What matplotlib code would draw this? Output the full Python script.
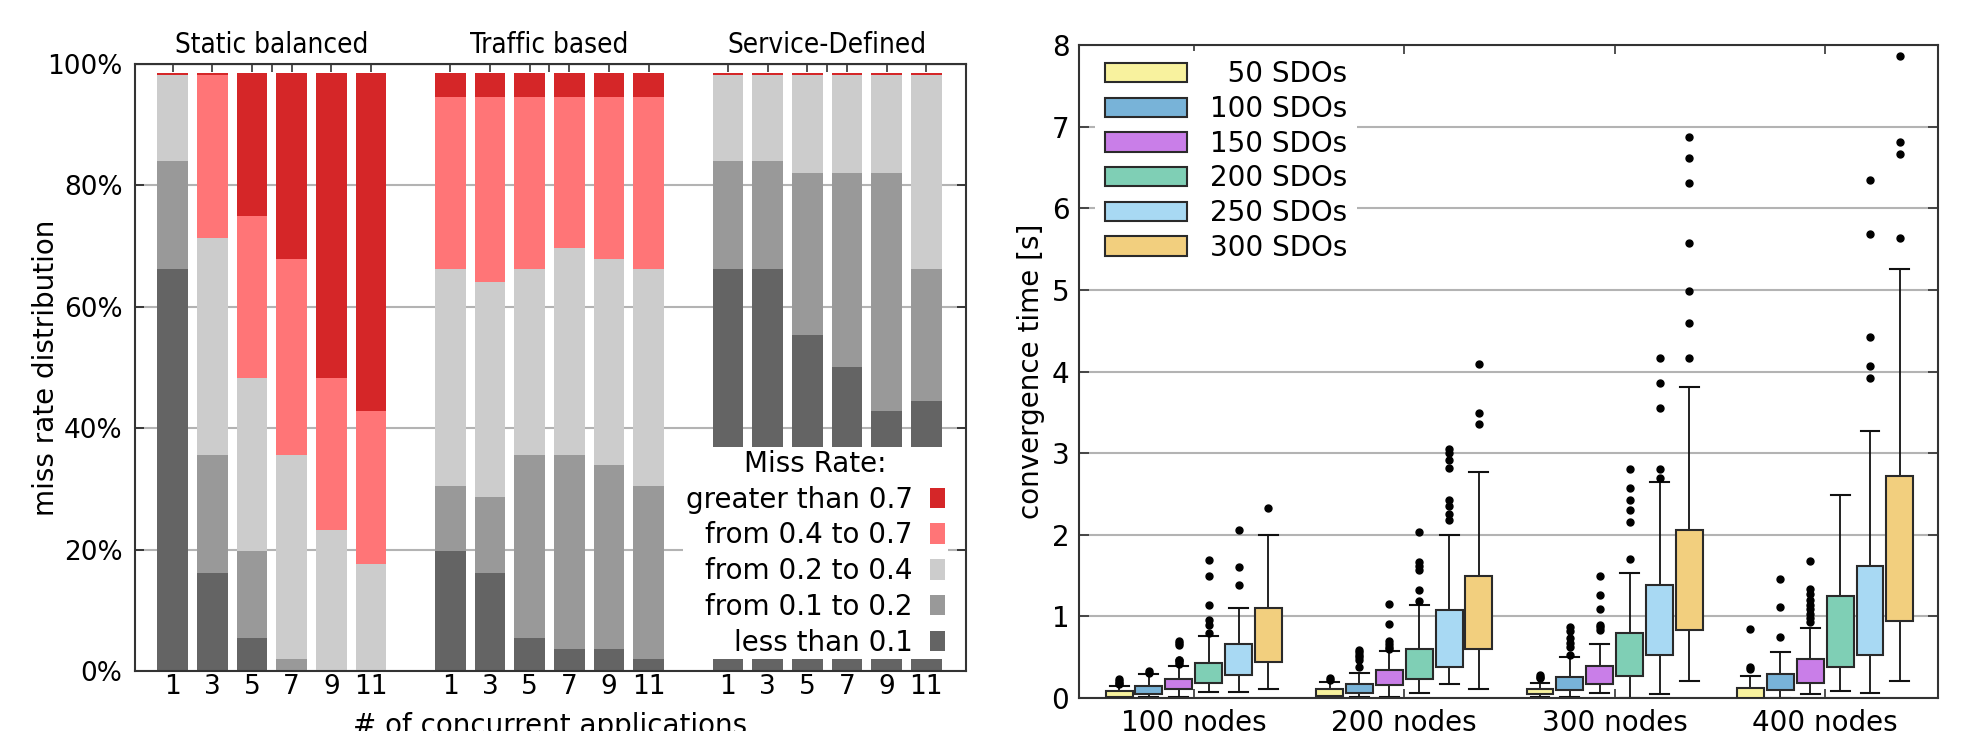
import numpy as np
import matplotlib
matplotlib.use("Agg")
import matplotlib.pyplot as plt
from matplotlib.patches import Patch
from matplotlib.font_manager import FontProperties
from matplotlib.ticker import FuncFormatter

# ---------------------------------------------------------------
# Left chart: miss rate distribution (stacked bars, % of apps)
# ---------------------------------------------------------------
groups = ['Static balanced', 'Traffic based', 'Service-Defined']
apps = ['1', '3', '5', '7', '9', '11']

# segment sizes per bar, 3 groups x 6 bars, bottom to top
less_01 = [66.2, 16.1, 5.4, 0.0, 0.0, 0.0,
           19.7, 16.1, 5.4, 3.7, 3.7, 1.9,
           66.2, 66.2, 55.3, 50.1, 42.8, 44.5]
from_01_02 = [17.8, 19.5, 14.3, 1.9, 0.0, 0.0,
              10.8, 12.6, 30.2, 31.9, 30.2, 28.6,
              17.8, 17.8, 26.7, 31.9, 39.2, 21.7]
from_02_04 = [14.1, 35.7, 28.5, 33.7, 23.2, 17.7,
              35.7, 35.4, 30.6, 34.0, 33.9, 35.7,
              14.1, 14.1, 16.1, 16.1, 16.1, 31.9]
from_04_07 = [0.0, 26.8, 26.8, 32.2, 25.0, 25.1,
              28.4, 30.5, 28.4, 25.0, 26.8, 28.4,
              0.0, 0.0, 0.0, 0.0, 0.0, 0.0]
greater_07 = [0.4, 0.4, 23.5, 30.7, 50.3, 55.7,
              3.9, 3.9, 3.9, 3.9, 3.9, 3.9,
              0.4, 0.4, 0.4, 0.4, 0.4, 0.4]

miss_labels = ['less than 0.1', 'from 0.1 to 0.2', 'from 0.2 to 0.4',
               'from 0.4 to 0.7', 'greater than 0.7']
miss_colors = ['#646464', '#999999', '#cccccc', '#ff7577', '#d52628']

# ---------------------------------------------------------------
# Right chart: convergence time box plots
# ---------------------------------------------------------------
nodes = ['100 nodes', '200 nodes', '300 nodes', '400 nodes']
sdos = ['\u200750 SDOs', '100 SDOs', '150 SDOs', '200 SDOs', '250 SDOs', '300 SDOs']
sdo_colors = ['#f8f29e', '#78b3d8', '#c97ee8', '#7fcfb5', '#a8d9f3', '#f2cf7e']

# rows: SDO series, columns: node count
q1 = [[0.010, 0.024, 0.044, 0.000],
      [0.053, 0.065, 0.098, 0.098],
      [0.114, 0.155, 0.169, 0.190],
      [0.183, 0.228, 0.268, 0.382],
      [0.277, 0.375, 0.524, 0.530],
      [0.440, 0.599, 0.836, 0.945]]
med = [[0.045, 0.065, 0.071, 0.071],
       [0.106, 0.126, 0.164, 0.180],
       [0.167, 0.236, 0.273, 0.355],
       [0.277, 0.363, 0.464, 0.628],
       [0.460, 0.676, 0.874, 0.967],
       [0.758, 1.022, 1.365, 1.529]]
q3 = [[0.085, 0.106, 0.109, 0.120],
      [0.150, 0.175, 0.257, 0.300],
      [0.236, 0.338, 0.393, 0.480],
      [0.424, 0.595, 0.792, 1.256],
      [0.668, 1.075, 1.382, 1.622],
      [1.108, 1.499, 2.064, 2.725]]
whis_lo = [[0.000, 0.000, 0.010, 0.000],
           [0.016, 0.010, 0.010, 0.005],
           [0.012, 0.010, 0.066, 0.044],
           [0.077, 0.065, 0.005, 0.082],
           [0.077, 0.175, 0.044, 0.066],
           [0.110, 0.106, 0.208, 0.208]]
whis_hi = [[0.147, 0.196, 0.190, 0.268],
           [0.300, 0.305, 0.500, 0.563],
           [0.387, 0.582, 0.666, 0.857],
           [0.758, 1.136, 1.530, 2.485],
           [1.104, 1.996, 2.649, 3.277],
           [2.000, 2.766, 3.807, 5.260]]
outliers = [
    [[0.17, 0.19, 0.21, 0.23], [0.22, 0.24], [0.24, 0.26, 0.28], [0.35, 0.38, 0.84]],
    [[0.31, 0.33], [0.38, 0.47, 0.50, 0.53, 0.56, 0.59],
     [0.53, 0.63, 0.68, 0.74, 0.82, 0.87], [0.75, 1.11, 1.46]],
    [[0.42, 0.44, 0.46, 0.47, 0.65, 0.68, 0.70], [0.60, 0.63, 0.66, 0.70, 0.91, 1.15],
     [0.83, 0.87, 0.90, 1.09, 1.26, 1.50],
     [0.93, 0.98, 1.03, 1.09, 1.14, 1.20, 1.27, 1.34, 1.68]],
    [[0.80, 0.90, 0.95, 1.14, 1.49, 1.69], [1.19, 1.32, 1.57, 1.62, 1.67, 2.03],
     [1.70, 2.16, 2.30, 2.43, 2.57, 2.80], []],
    [[1.39, 1.60, 2.06], [2.18, 2.26, 2.35, 2.43, 2.82, 2.92, 3.00, 3.05],
     [2.70, 2.80, 3.55, 3.86, 4.16], [3.92, 4.07, 4.42, 5.68, 6.35]],
    [[2.33], [3.36, 3.49, 4.09], [4.16, 4.60, 4.99, 5.58, 6.31, 6.62, 6.87],
     [5.64, 6.66, 6.81, 7.87]],
]

plt.rcParams['font.family'] = ['DejaVu Sans']
fig = plt.figure(figsize=(19.81, 7.31), dpi=100)

# Left chart
# ++++++++++
FS = 20
cond = FontProperties(family='DejaVu Sans', size=FS, stretch='condensed')

ax = fig.add_axes([0.0681, 0.0821, 0.4195, 0.8304])
pos = np.concatenate([np.arange(6) + 7 * g for g in range(3)])
segments = [less_01, from_01_02, from_02_04, from_04_07, greater_07]
bottom = np.zeros(len(pos))
for seg, col, lab in zip(segments, miss_colors, miss_labels):
    ax.bar(pos, seg, width=0.77, bottom=bottom, color=col, label=lab,
           linewidth=0, zorder=2)
    bottom += np.array(seg)

ax.set_xlim(-0.95, 20.0)
ax.set_ylim(0, 100)
ax.set_yticks(np.arange(0, 101, 20))
ax.yaxis.set_major_formatter(FuncFormatter(lambda v, p: '%d%%' % v))
ax.set_xticks(pos)
ax.set_xticklabels(apps * 3)
ax.tick_params(axis='x', length=0, pad=2, labelsize=19)
ax.tick_params(axis='y', direction='in', length=6.5, width=1.2, right=True, pad=9,
               colors='#222222', labelcolor='black', labelsize=19)
ax.yaxis.grid(True, color='#b3b3b3', linewidth=1.5, zorder=0)
ax.set_axisbelow(True)
for s in ax.spines.values():
    s.set_linewidth(1.5)
    s.set_color('#333333')

top = ax.secondary_xaxis('top')
top.set_xticks(list(pos) + [2.5, 9.5, 16.5])
top.tick_params(direction='in', length=6, width=1.2, labeltop=False, colors='#333333')

ax.set_ylabel('miss rate distribution', fontsize=FS, labelpad=-9)
ax.set_xlabel('# of concurrent applications', fontsize=FS, labelpad=9)
for g, name in enumerate(groups):
    ax.text(7 * g + 2.5, 1.018, name, transform=ax.get_xaxis_transform(),
            ha='center', va='baseline', fontproperties=cond)

h, l = ax.get_legend_handles_labels()
leg = ax.legend(h[::-1], l[::-1], title='Miss Rate:', loc='lower right',
                bbox_to_anchor=(0.978, 0.019), borderaxespad=0, markerfirst=False,
                fontsize=FS, title_fontsize=FS, frameon=True, fancybox=False,
                framealpha=1, handlelength=0.55, handleheight=0.75,
                handletextpad=0.6, labelspacing=0.28, borderpad=0.1)
leg.get_frame().set_edgecolor('white')
leg.get_frame().set_linewidth(0)
leg.set_zorder(5)

# Right chart
# +++++++++++
bx = fig.add_axes([0.5447, 0.0451, 0.4336, 0.8933])
step = 0.142
for i in range(len(sdos)):
    stats = []
    for j in range(len(nodes)):
        stats.append(dict(med=med[i][j], q1=q1[i][j], q3=q3[i][j],
                          whislo=whis_lo[i][j], whishi=whis_hi[i][j],
                          fliers=outliers[i][j]))
    positions = np.arange(len(nodes)) + (i - 2.5) * step
    bp = bx.bxp(stats, positions=positions, widths=0.128, capwidths=0.09,
                patch_artist=True, manage_ticks=False,
                boxprops=dict(facecolor=sdo_colors[i], edgecolor='#2a2a2a', linewidth=1.5),
                medianprops=dict(color='#111111', linewidth=1.5),
                whiskerprops=dict(color='#111111', linewidth=1.3),
                capprops=dict(color='#111111', linewidth=1.5),
                flierprops=dict(marker='o', markerfacecolor='black',
                                markeredgecolor='black', markersize=5))
    for b in bp['boxes']:
        b.set_zorder(3)

bx.set_xlim(-0.545, 3.536)
bx.set_ylim(0, 8)
bx.set_yticks(range(0, 9))
bx.set_xticks(range(len(nodes)))
bx.set_xticklabels(nodes)
bx.tick_params(axis='both', labelsize=FS, direction='in', width=1.2, colors='#333333',
               labelcolor='black')
bx.tick_params(axis='y', length=7, right=True, pad=7)
bx.tick_params(axis='x', length=6.5, top=True, pad=8)
bx.yaxis.grid(True, color='#b3b3b3', linewidth=1.5, zorder=0)
bx.set_axisbelow(True)
for s in bx.spines.values():
    s.set_linewidth(1.5)
    s.set_color('#333333')
bx.set_ylabel('convergence time [s]', fontsize=FS, labelpad=5)

handles = [Patch(facecolor=c, edgecolor='#2a2a2a', linewidth=1.5) for c in sdo_colors]
leg2 = bx.legend(handles, sdos, loc='upper left', bbox_to_anchor=(0.012, 1.0),
                 borderaxespad=0.2, fontsize=FS, frameon=True, fancybox=False,
                 framealpha=1, handlelength=2.95, handleheight=0.7,
                 handletextpad=0.85, labelspacing=0.24, borderpad=0.35)
leg2.get_frame().set_edgecolor('white')
leg2.get_frame().set_linewidth(0)
leg2.set_zorder(5)

fig.savefig('out.png', dpi=100)
